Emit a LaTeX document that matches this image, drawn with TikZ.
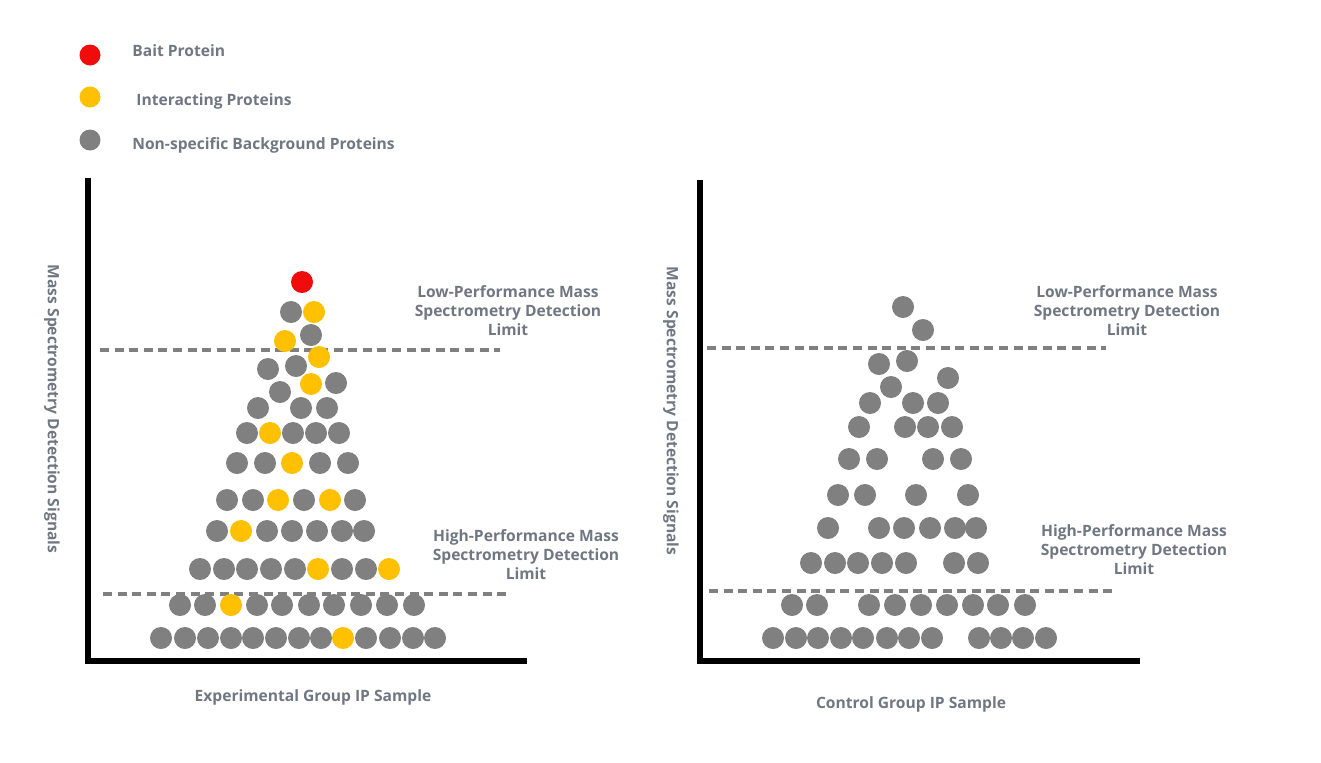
\documentclass[tikz,border=0pt]{standalone}
\usepackage{fontspec}
\setmainfont{Open Sans}
\definecolor{txtgray}{RGB}{112,119,130}
\definecolor{dotgray}{RGB}{128,128,128}
\definecolor{dotyellow}{RGB}{255,192,0}
\definecolor{dotred}{RGB}{240,12,12}
\tikzset{
  eje/.style={line width=3pt, line cap=rect},
  limite/.style={dotgray, line width=1.7pt, dash pattern=on 4.5pt off 2.8pt},
  rotulo/.style={text=txtgray, font=\bfseries\fontsize{7.8}{9.5}\selectfont, inner sep=0pt, align=center},
  gris/.style={fill=dotgray},
  amarillo/.style={fill=dotyellow},
  rojo/.style={fill=dotred},
}
\begin{document}
\begin{tikzpicture}[x=0.5pt, y=-0.5pt]
  \useasboundingbox (0,0) rectangle (1321,762);
  % la leyenda
  \fill[rojo] (90,55) circle (10.5);
  \fill[amarillo] (90,97) circle (10.5);
  \fill[gris] (90,140) circle (10.5);
  \node[rotulo, anchor=west] (leyBait) at (132,51) {Bait Protein};
  \node[rotulo, anchor=west] (leyInter) at (136,101) {Interacting Proteins};
  \node[rotulo, anchor=west] (leyFondo) at (132,145) {Non-specific Background Proteins};
  % los ejes
  \coordinate (expO) at (87.5,661); \coordinate (expY) at (87.5,181); \coordinate (expX) at (524,661);
  \coordinate (ctlO) at (700,661); \coordinate (ctlY) at (700,183); \coordinate (ctlX) at (1137,661);
  \draw[eje] (expY) -- (expO) -- (expX);
  \draw[eje] (ctlY) -- (ctlO) -- (ctlX);
  % los limites de deteccion
  \coordinate (expBajoA) at (100,350); \coordinate (expBajoB) at (500,350);
  \coordinate (expAltoA) at (103,594); \coordinate (expAltoB) at (507,594);
  \coordinate (ctlBajoA) at (707,348); \coordinate (ctlBajoB) at (1106,348);
  \coordinate (ctlAltoA) at (709,591); \coordinate (ctlAltoB) at (1112,591);
  \draw[limite] (expBajoA) -- (expBajoB);
  \draw[limite] (expAltoA) -- (expAltoB);
  \draw[limite] (ctlBajoA) -- (ctlBajoB);
  \draw[limite] (ctlAltoA) -- (ctlAltoB);
  % muestra experimental
  \foreach \y/\fila in {408/{258,301,327}, 433/{247,293,316,339}, 463/{237,265,320,348},
      500/{227,253,304,355}, 531/{217,267,292,317,342,364},
      569/{200,224,247,271,295,342,366}, 605/{180,205,257,282,309,334,361,387,414},
      638/{161,185,208,231,253,276,299,321,366,390,413,435}} {
    \foreach \x in \fila { \fill[gris] (\x,\y) circle (11); }
  }
  \foreach \x/\y in {291/312, 311/335, 268/369, 296/366, 280/392, 336/383} {
    \fill[gris] (\x,\y) circle (11);
  }
  \foreach \x/\y in {314/312, 285/341, 319/357, 311/384, 270/433, 292/463, 278/500,
      330/500, 241/531, 318/569, 389/569, 231/605, 343/638} {
    \fill[amarillo] (\x,\y) circle (11);
  }
  \fill[rojo] (302,282) circle (11);
  % muestra control
  \foreach \y/\fila in {403/{870,913,938}, 427/{859,905,928,952}, 459/{849,877,933,961},
      495/{838,865,916,968}, 528/{828,879,904,930,955,976},
      563/{811,835,858,882,906,954,978}, 605/{792,817,869,895,921,947,973,998,1025},
      638/{773,796,818,841,863,887,909,932,979,1001,1023,1046}} {
    \foreach \x in \fila { \fill[gris] (\x,\y) circle (11); }
  }
  \foreach \x/\y in {903/307, 923/330, 879/364, 907/361, 891/387, 948/378} {
    \fill[gris] (\x,\y) circle (11);
  }
  % los rotulos
  \node[rotulo] (expBajo) at (508,311) {Low-Performance Mass\\Spectrometry Detection\\Limit};
  \node[rotulo] (expAlto) at (526,555) {High-Performance Mass\\Spectrometry Detection\\Limit};
  \node[rotulo] (ctlBajo) at (1127,311) {Low-Performance Mass\\Spectrometry Detection\\Limit};
  \node[rotulo] (ctlAlto) at (1134,550) {High-Performance Mass\\Spectrometry Detection\\Limit};
  \node[rotulo, rotate=-90] (expSenal) at (52,409) {Mass Spectrometry Detection Signals};
  \node[rotulo, rotate=-90] (ctlSenal) at (671,411) {Mass Spectrometry Detection Signals};
  \node[rotulo] (expMuestra) at (313,697) {Experimental Group IP Sample};
  \node[rotulo] (ctlMuestra) at (911,704) {Control Group IP Sample};
\end{tikzpicture}
\end{document}
